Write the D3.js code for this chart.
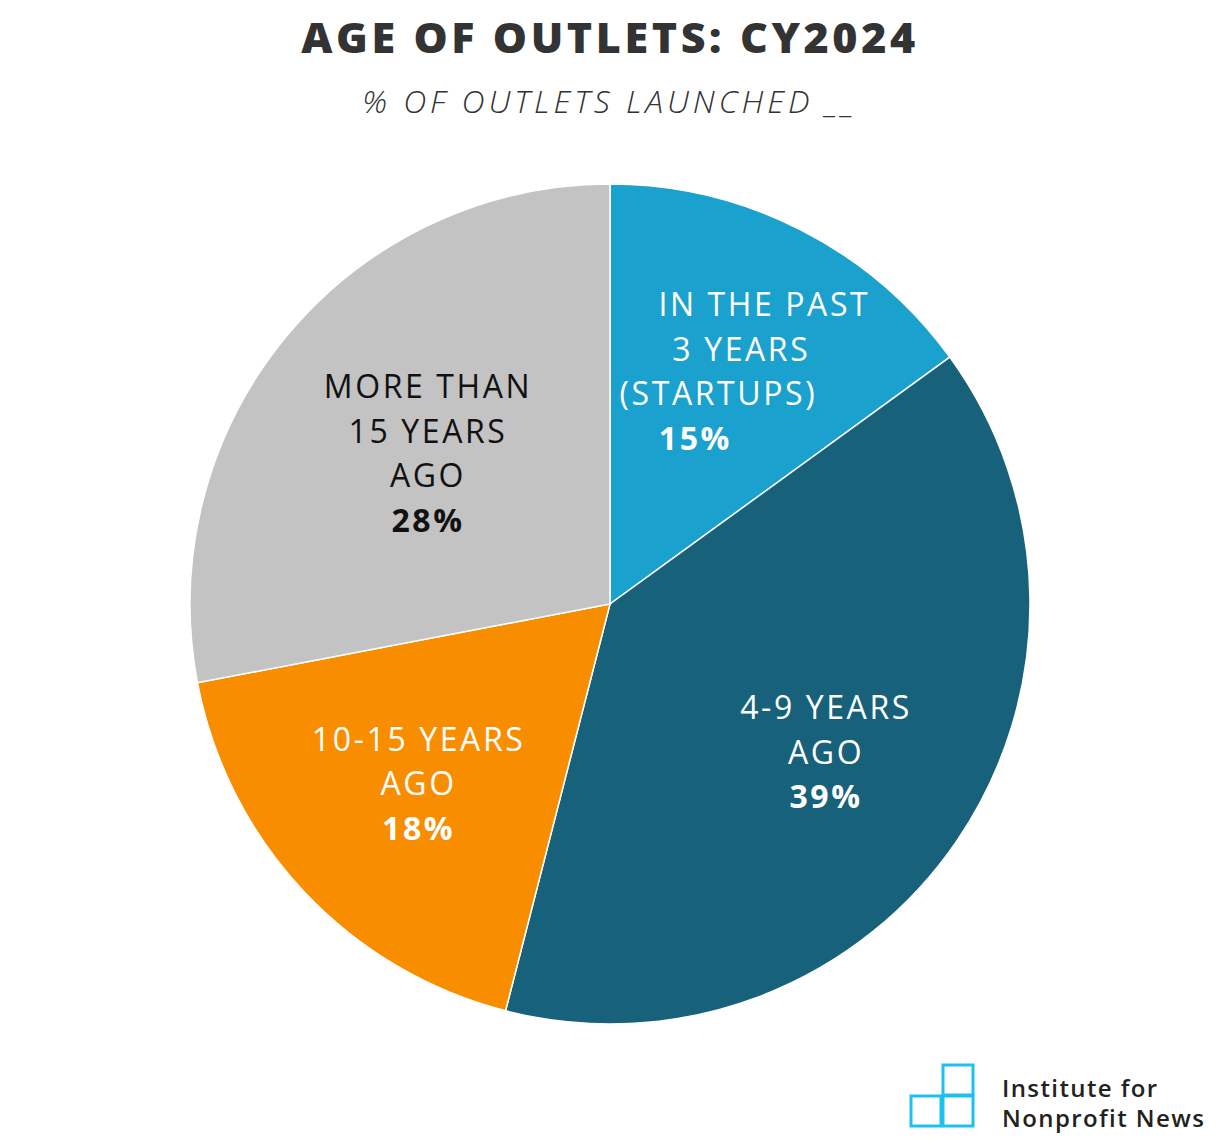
<!DOCTYPE html>
<html>
<head>
<meta charset="utf-8">
<script src="https://cdn.jsdelivr.net/npm/d3@7"></script>
<style>
  body { margin: 0; background: #fff; }
  svg text { font-family: "Open Sans", "Noto Sans", sans-serif; }
</style>
</head>
<body>
<div id="chart"></div>
<script>
const width = 1220,
    height = 1144;

// data
const categories = ["IN THE PAST|3 YEARS|(STARTUPS)", "4-9 YEARS|AGO", "10-15 YEARS|AGO", "MORE THAN|15 YEARS|AGO"];
const values = [15, 39, 18, 28];
const colors = ["#1ba1ce", "#17617b", "#f98d00", "#c3c3c3"];
const textColors = ["#fff", "#fff", "#fff", "#111"];

const svg = d3.select("#chart")
    .append("svg")
    .attr("width", width)
    .attr("height", height);

svg.append("text")
    .attr("x", 610).attr("y", 53)
    .attr("text-anchor", "middle")
    .style("font-size", "43px")
    .style("font-weight", "800")
    .style("letter-spacing", "3.6px")
    .style("fill", "#333")
    .text("AGE OF OUTLETS: CY2024");

svg.append("text")
    .attr("x", 610).attr("y", 113)
    .attr("text-anchor", "middle")
    .style("font-size", "32px")
    .style("font-style", "italic")
    .style("font-weight", "300")
    .style("letter-spacing", "3.9px")
    .style("fill", "#333")
    .text("% OF OUTLETS LAUNCHED __");

const radius = 420;
const g = svg.append("g").attr("transform", "translate(610,604)");

const pie = d3.pie().sort(null).value(d => d)(values);
const arc = d3.arc().innerRadius(0).outerRadius(radius);

g.selectAll("path")
    .data(pie)
    .enter()
    .append("path")
    .attr("d", arc)
    .attr("fill", (d, i) => colors[i])
    .attr("stroke", "#fff")
    .attr("stroke-width", 1.5);

// label placement per slice (x shift, y shift)
const labelArc = d3.arc().innerRadius(radius * 0.55).outerRadius(radius * 0.55);
const labelOffsets = [[15, -26], [25, 19], [-23, 22], [-4, -3]];
const lineH = 44.5;

pie.forEach((d, i) => {
    const c = labelArc.centroid(d);
    const lines = categories[i].split("|");
    const all = lines.concat([values[i] + "%"]);
    const startY = c[1] - (all.length - 1) * lineH / 2 + labelOffsets[i][1];
    const t = g.append("text")
        .attr("text-anchor", "middle")
        .style("font-size", "32px")
        .style("letter-spacing", "2.6px")
        .style("fill", textColors[i]);
    all.forEach((s, j) => {
        // blue slice label lines drift left, as in the original
        const shift = i === 0 ? (1.5 - j) * 23 : 0;
        t.append("tspan")
            .attr("x", c[0] + labelOffsets[i][0] + shift)
            .attr("y", startY + j * lineH + 11)
            .style("font-weight", j === all.length - 1 ? "700" : "400")
            .text(s);
    });
});

// logo
const logo = svg.append("g").attr("transform", "translate(911,1065)");
logo.selectAll("rect")
    .data([[32, 0], [0, 31], [32, 31]])
    .enter()
    .append("rect")
    .attr("x", d => d[0]).attr("y", d => d[1])
    .attr("width", 30).attr("height", 30)
    .attr("fill", "none")
    .attr("stroke", "#1ec0f0")
    .attr("stroke-width", 3);

const logoText = svg.append("text")
    .style("font-size", "24px")
    .style("font-weight", "600")
    .style("letter-spacing", "1.4px")
    .style("fill", "#222");
logoText.append("tspan").attr("x", 1002).attr("y", 1097).text("Institute for");
logoText.append("tspan").attr("x", 1002).attr("y", 1127).text("Nonprofit News");
</script>
</body>
</html>
